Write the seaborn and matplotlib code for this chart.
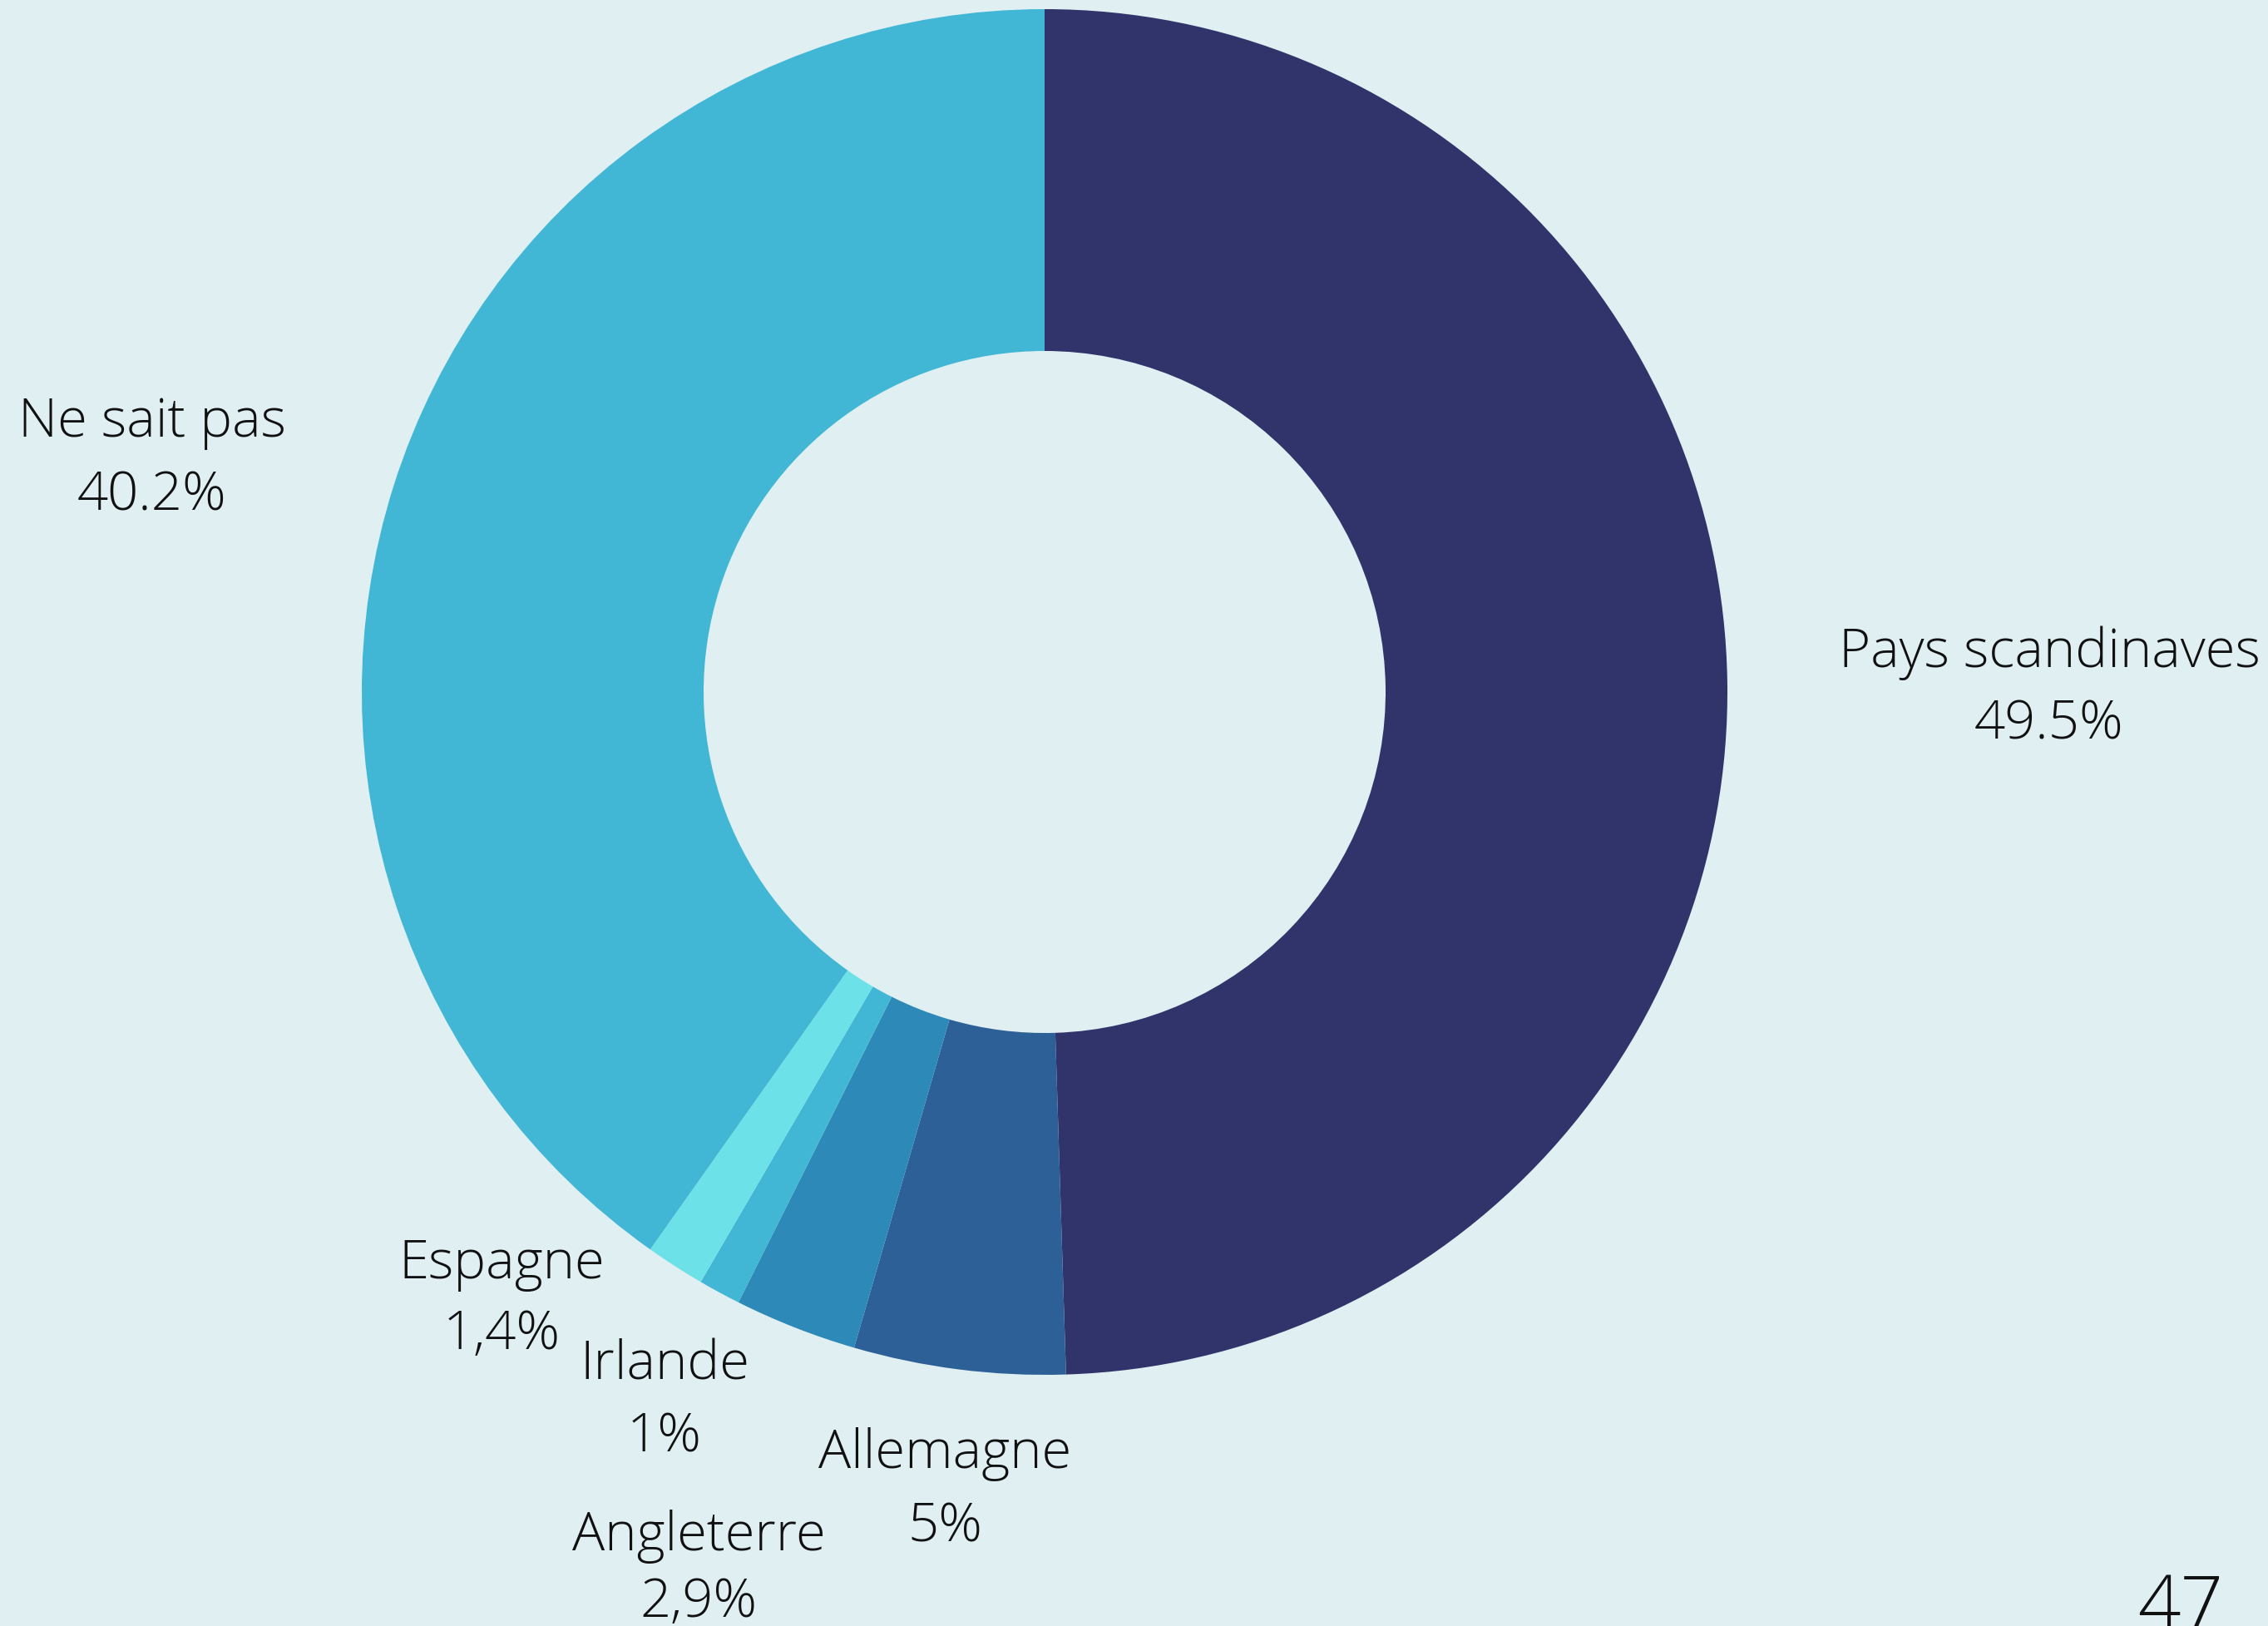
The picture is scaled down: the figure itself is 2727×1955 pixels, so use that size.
import matplotlib
matplotlib.use("Agg")
import matplotlib.pyplot as plt
import seaborn as sns

# === Data ===
countries = ["Pays scandinaves", "Allemagne", "Angleterre", "Irlande", "Espagne", "Ne sait pas"]
shares = [49.5, 5.0, 2.9, 1.0, 1.4, 40.2]
share_labels = ["49.5%", "5%", "2,9%", "1%", "1,4%", "40.2%"]
slice_colors = ["#30346b", "#2e6098", "#2d8ab8", "#42b7d5", "#6ce1e7", "#42b7d5"]

# label anchor positions (pixels from top-left): name baseline, value baseline
label_x = [2464, 1136, 840, 799, 603, 183]
name_y = [802, 1765, 1864, 1659, 1537, 525]
value_y = [889, 1854, 1944, 1746, 1622, 614]

page_number = "47"

bg = "#dfeff2"
W, H = 2727, 1956

sns.set_theme(style="white")
plt.rcParams["font.family"] = ["Open Sans", "DejaVu Sans"]

fig = plt.figure(figsize=(W / 100, H / 100), dpi=100, facecolor=bg)
ax = fig.add_axes([0, 0, 1, 1])
ax.set_facecolor(bg)

palette = sns.color_palette(slice_colors)
ax.pie(shares, colors=palette, startangle=90, counterclock=False,
       center=(1256, H - 833), radius=821,
       wedgeprops=dict(width=411, linewidth=0))

ax.set_xlim(0, W)
ax.set_ylim(0, H)
ax.set_aspect("equal")
ax.axis("off")

# === Labels ===
for name, val, x, ny, vy in zip(countries, share_labels, label_x, name_y, value_y):
    ax.text(x, H - ny, name, ha="center", va="baseline", fontsize=47,
            fontweight="light", color="#111111")
    ax.text(x, H - vy, val, ha="center", va="baseline", fontsize=47,
            fontweight="light", color="#111111")

ax.text(2622, H - 1960, page_number, ha="center", va="baseline", fontsize=65,
        fontweight="light", color="#111111")

fig.savefig("out.png", dpi=100, facecolor=bg)
